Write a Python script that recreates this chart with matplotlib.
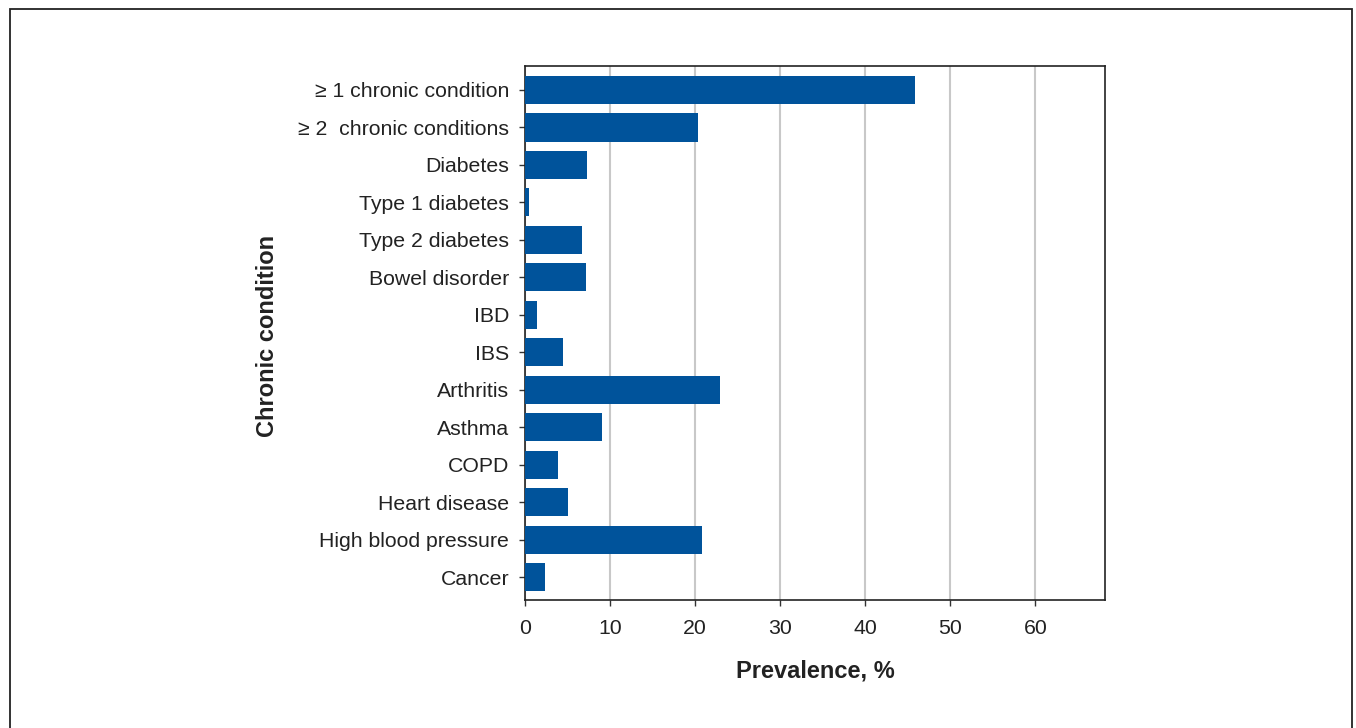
import matplotlib.pyplot as plt
from matplotlib.patches import Rectangle

plt.rcParams["font.family"] = ["Liberation Sans", "DejaVu Sans"]

conditions = ["\u2265 1 chronic condition", "\u2265 2  chronic conditions", "Diabetes",
              "Type 1 diabetes", "Type 2 diabetes", "Bowel disorder", "IBD", "IBS",
              "Arthritis", "Asthma", "COPD", "Heart disease", "High blood pressure", "Cancer"]
prevalence = [45.9, 20.4, 7.3, 0.5, 6.7, 7.2, 1.4, 4.5, 22.9, 9.1, 3.9, 5.1, 20.8, 2.3]
x_ticks = [0, 10, 20, 30, 40, 50, 60]

fig = plt.figure(figsize=(13.56, 7.28), dpi=100)
ax = fig.add_axes([525 / 1356, 1 - 600 / 728, 580 / 1356, 534 / 728])

ypos = list(range(len(conditions)))
ax.barh(ypos, prevalence, height=0.75, color="#00539B", zorder=3)
ax.set_yticks(ypos)
ax.set_yticklabels(conditions, fontsize=15.3, color="#222222")
ax.set_ylim(len(conditions) - 0.39, -0.64)
ax.set_xlim(0, 68.2)
ax.set_xticks(x_ticks)
ax.set_xticklabels([str(t) for t in x_ticks], fontsize=15.3, color="#222222")
ax.xaxis.grid(True, color="#c8c8c8", linewidth=1.5, zorder=0)
ax.tick_params(axis="both", direction="out", length=4.5, width=1, color="#333333")
ax.tick_params(axis="y", pad=7)
ax.tick_params(axis="x", pad=9.5)
for s in ax.spines.values():
    s.set_color("#222222")
    s.set_linewidth(1.2)

ax.set_xlabel("Prevalence, %", fontsize=17, fontweight="bold", color="#222222", labelpad=15)
fig.text(268 / 1356, 1 - 336 / 728, "Chronic condition", rotation=90, fontsize=17,
         fontweight="bold", color="#222222", ha="center", va="center")

# outer frame around the whole figure
fig.patches.append(Rectangle((10 / 1356, -0.05), 1342 / 1356, 1.05 - 9 / 728,
                             transform=fig.transFigure, fill=False,
                             edgecolor="#222222", linewidth=1.3))

fig.savefig("out.png", dpi=100)
